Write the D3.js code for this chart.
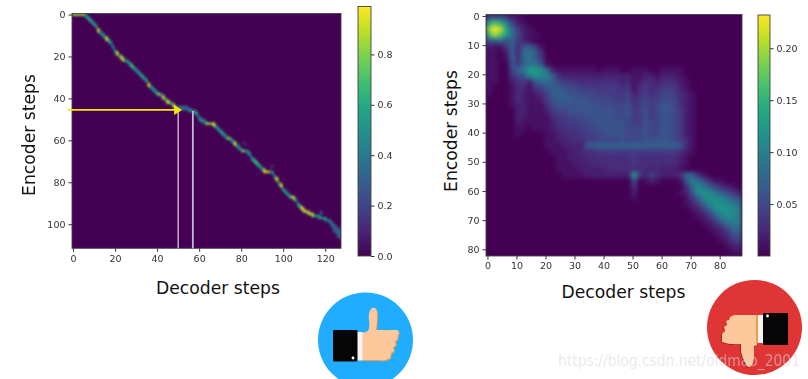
<!DOCTYPE html>
<html><head><meta charset="utf-8">
<script src="https://cdn.jsdelivr.net/npm/d3@7"></script>
<style>html,body{margin:0;padding:0;background:#fff}svg{display:block}text{font-family:"DejaVu Sans"}</style>
</head><body><svg id="c" width="808" height="379"></svg>
<script>
// ---- left heat map: attention row for each decoder step
const alignedRow = [0,0,0,0,0,0,1,2,3,4, 5,6,8,9,10,11,12,13,14,16, 18,19,20,21,22,22,23,24,25,26,
 27,28,29,30,31,32,34,35,36,37, 38,38,39,40,41,42,42,43,44,44, 45,45,45,45,45,46,46,46,47,48,
 50,51,51,52,52,52,52,53,54,55, 56,57,58,59,59,60,61,62,63,64, 65,65,65,66,67,69,70,71,72,73,
 74,75,75,75,75,76,78,79,81,82, 84,85,86,87,87,88,89,91,92,93, 94,94,95,95,96,96,96,97,97,97,
 98,98,99,100,101,102,103,104];
const alignedValue = [.85,.85,.85,.85,.85,.85,.5,.5,.6,.5, .5,.5,.95,.5,.5,.5,.95,.6,.5,.45, .5,.95,.5,.95,.85,.5,.5,.5,.7,.5,
 .5,.5,.5,.6,.5,.5,.95,.5,.5,.5, .6,.95,.5,.95,.5,.95,.85,.5,.95,.5, .4,.4,.38,.38,.38,.38,.4,.5,.6,.5,
 .45,.45,.45,.6,.95,.7,.85,.95,.5,.5, .5,.6,.5,.5,.95,.5,.5,.95,.5,.5, .45,.95,.5,.5,.5,.5,.6,.7,.6,.5,
 .5,.95,.85,.95,.5,.45,.5,.95,.5,.95, .5,.5,.5,.5,.95,.85,.5,.5,.7,.95, .85,.95,.85,.95,.85,.6,.6,.5,.55,.55,
 .55,.45,.45,.35,.3,.3,.3,.3];
const leftFaintCols = [51,52,53,54,55,56,60,61,62,81,82,95,94,118,118,88,123,124,125,126,127,124,125,126,127,125,126,127,126,127,127];
const leftFaintRows = [44,44,44,44,45,45,49,50,50,61,62,72,73,94,95,76,101,102,102,103,103,103,103,104,104,104,105,105,106,106,107];
const leftFaintVals = [.3,.35,.3,.3,.3,.3,.35,.3,.3,.15,.12,.14,.12,.25,.3,.06,.3,.25,.3,.3,.3,.3,.3,.3,.35,.3,.3,.35,.25,.3,.15];
const leftXTicks = [0,20,40,60,80,100,120];
const leftYTicks = [0,20,40,60,80,100];
const leftBarTicks = [0,.2,.4,.6,.8];
const leftMax = .99;
const noteRow = 45.5, noteColA = 50, noteColB = 57;

// ---- right heat map: every 2nd row, every 2nd column, in hundredths (base 36)
const rightGrid = [
"5664 2100 0000 0000 0000 0000 0000 0000 0000 0000 0000",
"ehfb 5210 0000 0000 0000 0000 0000 0000 0000 0000 0000",
"jrle 8421 0000 0000 0000 0000 0000 0000 0000 0000 0000",
"fkhd 8521 1000 0000 0000 0000 0000 0000 0000 0000 0000",
"6786 7421 0000 0000 0000 0000 0000 0000 0000 0000 0000",
"2114 7367 4100 0000 0000 0000 0000 0000 0000 0000 0000",
"1102 7389 7300 0000 0000 0000 0000 0000 0000 0000 0000",
"1101 7389 7400 0000 0000 0000 0000 0000 0000 0000 0000",
"1100 6479 9610 0000 0000 0000 0000 0000 0000 0000 0000",
"1100 579d dc82 1111 1110 1110 0111 0011 1100 0000 0000",
"1100 356b cba7 3222 2222 2222 2112 2122 2100 0000 0000",
"1100 2342 7887 5443 3333 3332 3123 3233 3210 0000 0000",
"1000 1331 4567 7655 4444 4443 4134 3344 4210 0000 0000",
"1000 1321 2357 7766 5554 4444 5234 3455 4321 0000 0000",
"0000 1321 1246 7776 6655 5544 5345 4455 5321 0000 0000",
"0000 1221 1135 6666 6666 5555 6345 4566 5321 0000 0000",
"0000 0221 1124 5566 6666 6655 6446 4566 5421 0000 0000",
"0000 0221 1113 4455 5666 6655 6446 4566 5421 0000 0000",
"0000 0211 1112 3444 5566 6666 5446 5566 5421 0000 0000",
"0000 0110 1112 3344 4556 6666 5556 5566 5421 0000 0000",
"0000 0100 0011 2333 4455 5666 5556 5566 5421 0000 0000",
"0000 0000 0011 2233 3445 5556 5556 6666 5431 0000 0000",
"0000 0000 0011 1222 2777 7777 7877 7777 7731 0000 0000",
"0000 0000 0001 1122 3334 4444 4444 4444 4321 0000 0000",
"0000 0000 0000 1122 2333 3333 3433 3333 3210 0000 0000",
"0000 0000 0000 1112 2233 3333 3433 3333 3210 0000 0000",
"0000 0000 0000 1111 2222 2333 3333 2322 2100 0000 0000",
"0000 0000 0000 0111 1222 2222 2d42 5322 2387 3100 0000",
"0000 0000 0000 0000 0000 0000 0501 2100 016a 8631 1000",
"0000 0000 0000 0000 0000 0000 0300 0000 0038 b975 3210",
"0000 0000 0000 0000 0000 0000 0200 0000 0126 bcb9 7542",
"0000 0000 0000 0000 0000 0000 0100 0000 0014 7bcc b976",
"0000 0000 0000 0000 0000 0000 0000 0000 0012 47bc cba9",
"0000 0000 0000 0000 0000 0000 0000 0000 0001 247b ccba",
"0000 0000 0000 0000 0000 0000 0000 0000 0000 1247 abba",
"0000 0000 0000 0000 0000 0000 0000 0000 0000 0124 79aa",
"0000 0000 0000 0000 0000 0000 0000 0000 0000 0012 3689",
"0000 0000 0000 0000 0000 0000 0000 0000 0000 0001 2367",
"0000 0000 0000 0000 0000 0000 0000 0000 0000 0000 1245",
"0000 0000 0000 0000 0000 0000 0000 0000 0000 0000 0123",
"0000 0000 0000 0000 0000 0000 0000 0000 0000 0000 0011",
"0000 0000 0000 0000 0000 0000 0000 0000 0000 0000 0000"];
const rightXTicks = [0,10,20,30,40,50,60,70,80];
const rightYTicks = [0,10,20,30,40,50,60,70,80];
const rightBarTicks = [.05,.10,.15,.20];
const rightMax = .232;

const xLabel = "Decoder steps", yLabel = "Encoder steps";
const watermark = "https://blog.csdn.net/oldmao_2001";

// ---- drawing
const svg = d3.select("#c");
const defs = svg.append("defs");
function blur(id, s){
  defs.append("filter").attr("id",id).attr("filterUnits","userSpaceOnUse")
    .attr("x",0).attr("y",0).attr("width",808).attr("height",379)
    .attr("color-interpolation-filters","sRGB")
    .append("feGaussianBlur").attr("stdDeviation",s);
}
blur("clipLf",.8); blur("clipRf",2.3); blur("bA",.25); blur("bI",.4);

function frame(id,x,y){
  const [x0,x1]=x.range(),[y0,y1]=y.range();
  defs.append("clipPath").attr("id",id).append("rect").attr("x",x0).attr("y",y0).attr("width",x1-x0).attr("height",y1-y0);
  const g = svg.append("g").attr("clip-path",`url(#${id})`).append("g").attr("filter",`url(#${id}f)`);
  g.append("rect").attr("x",x0-20).attr("y",y0-20).attr("width",x1-x0+40).attr("height",y1-y0+40).attr("fill",d3.interpolateViridis(0));
  return g;
}
function axes(x,y,xt,yt){
  const [x0,x1]=x.range(),[y0,y1]=y.range();
  const g = svg.append("g").attr("class","axes").attr("filter","url(#bA)");
  const ax = g.append("g").attr("transform",`translate(0,${y1})`).call(d3.axisBottom(x).tickValues(xt).tickSize(3.5).tickSizeOuter(0).tickFormat(d3.format("d")));
  const ay = g.append("g").attr("transform",`translate(${x0},0)`).call(d3.axisLeft(y).tickValues(yt).tickSize(3.5).tickSizeOuter(0).tickFormat(d3.format("d")));
  [ax,ay].forEach(a=>{a.select(".domain").remove();a.selectAll("line").attr("stroke","#333");a.selectAll("text").attr("font-family","DejaVu Sans").attr("font-size",9.5).attr("fill","#333");});
  g.append("rect").attr("x",x0).attr("y",y0).attr("width",x1-x0).attr("height",y1-y0).attr("fill","none").attr("stroke","#444").attr("stroke-width",.9);
}
function colorbar(x0,x1,y0,y1,max,ticks,fmt){
  const s = d3.scaleLinear().domain([0,max]).range([y1,y0]);
  const id = "g"+x0;
  const grad = defs.append("linearGradient").attr("id",id).attr("x1",0).attr("x2",0).attr("y1",1).attr("y2",0);
  d3.range(0,1.01,.1).forEach(t=>grad.append("stop").attr("offset",t).attr("stop-color",d3.interpolateViridis(t)));
  const g = svg.append("g").attr("filter","url(#bA)");
  g.append("rect").attr("x",x0).attr("y",y0).attr("width",x1-x0).attr("height",y1-y0).attr("fill",`url(#${id})`).attr("stroke","#444").attr("stroke-width",.9);
  const a = g.append("g").attr("transform",`translate(${x1},0)`).call(d3.axisRight(s).tickValues(ticks).tickSize(3.5).tickSizeOuter(0).tickFormat(d3.format(fmt)));
  a.select(".domain").remove();a.selectAll("line").attr("stroke","#333");a.selectAll("text").attr("font-family","DejaVu Sans").attr("font-size",9.5).attr("fill","#333");
}

// left
const lx = d3.scaleLinear().domain([-.5,127.5]).range([72,341]);
const ly = d3.scaleLinear().domain([-.5,111.5]).range([13.5,248.3]);
const lc = v=>d3.interpolateViridis(v/leftMax);
const gl = frame("clipL",lx,ly);
gl.selectAll("rect.f").data(leftFaintCols.map((c,i)=>({c,r:leftFaintRows[i],v:leftFaintVals[i]}))).join("rect").attr("class","f")
  .attr("x",d=>lx(d.c-.5)).attr("y",d=>ly(d.r-.5)).attr("width",lx(1)-lx(0)+.3).attr("height",ly(1)-ly(0)+.3).attr("fill",d=>lc(d.v));
gl.selectAll("rect.p").data(alignedRow.map((r,i)=>({c:i,r,p:i?alignedRow[i-1]:r,v:alignedValue[i]}))).join("rect").attr("class","p")
  .attr("x",d=>lx(d.c-.5)).attr("y",d=>ly(Math.min(d.p+(d.r-d.p>1?1:0),d.r)-.5)).attr("width",lx(1)-lx(0)+.3)
  .attr("height",d=>ly(d.r+.5)-ly(Math.min(d.p+(d.r-d.p>1?1:0),d.r)-.5)+.3).attr("fill",d=>lc(d.v));
axes(lx,ly,leftXTicks,leftYTicks);
colorbar(358,371,6.5,256,leftMax,leftBarTicks,".1f");

// notes on left
svg.append("line").attr("x1",lx(noteColA)).attr("x2",lx(noteColA)).attr("y1",ly(noteRow)).attr("y2",ly.range()[1]).attr("stroke","#fff").attr("stroke-width",1);
svg.append("line").attr("x1",lx(noteColB)).attr("x2",lx(noteColB)).attr("y1",ly(noteRow+.5)).attr("y2",ly.range()[1]).attr("stroke","#c9b6d6").attr("stroke-width",1.8);
svg.append("line").attr("x1",68).attr("x2",lx(noteColA)-2).attr("y1",ly(noteRow)).attr("y2",ly(noteRow)).attr("stroke","#f7e600").attr("stroke-width",1.8);
svg.append("path").attr("d",d3.line()([[lx(noteColA)-4,ly(noteRow)-5],[lx(noteColA)+4,ly(noteRow)],[lx(noteColA)-4,ly(noteRow)+5]])+"Z").attr("fill","#f7e600");

// right
const rx = d3.scaleLinear().domain([-.5,87.7]).range([486,742]);
const ry = d3.scaleLinear().domain([-.5,82.3]).range([14.5,256]);
const rc = v=>d3.interpolateViridis(v/rightMax);
const rightCells = [];
rightGrid.forEach((row,r)=>row.replace(/ /g,"").split("").forEach((ch,c)=>{const v=parseInt(ch,36)/100; if(v>0) rightCells.push({c:c*2,r:r*2,v});}));
const gr = frame("clipR",rx,ry);
gr.selectAll("rect.c").data(rightCells).join("rect").attr("class","c")
  .attr("x",d=>rx(d.c-.5)).attr("y",d=>ry(d.r-.5)).attr("width",rx(2)-rx(0)+.3).attr("height",ry(2)-ry(0)+.3).attr("fill",d=>rc(d.v));
axes(rx,ry,rightXTicks,rightYTicks);
colorbar(758,770,15,256,rightMax,rightBarTicks,".2f");

// big labels
function big(t,x,y,rot){
  svg.append("text").attr("transform",`translate(${x},${y})`+(rot?" rotate(-90)":"")).attr("text-anchor","middle").attr("font-family","Lato").attr("font-size",17.2).attr("fill","#111").text(t);
}
big(xLabel,218,294,false);
big(yLabel,35,135,true);
big(xLabel,623.5,298,false);
big(yLabel,457,131,true);

// icons
const up = svg.append("g").attr("filter","url(#bI)");
up.append("circle").attr("cx",365.5).attr("cy",340).attr("r",47.5).attr("fill","#21adff");
const handUp="M362,333 L368,331 C371,326 368,320 369,314 C370,308 373,307 375,308 C378,310 377,316 377,321 L376,330 L397,330 Q400,331 398,335 L397,340 L395,341 L396,345 L393,347 L394,351 L391,353 L390,358 Q385,361 380,360 L362,360 Z";
up.append("path").attr("d",handUp).attr("fill","#ef9b4e").attr("transform","translate(.8,.9)");
up.append("path").attr("d",handUp).attr("fill","#fdc99c");
up.append("rect").attr("x",357).attr("y",332).attr("width",5.5).attr("height",28.5).attr("fill","#f4f4f4");
up.append("rect").attr("x",333).attr("y",330).attr("width",24.5).attr("height",31.5).attr("fill","#050505").attr("rx",1);
up.append("circle").attr("cx",353).attr("cy",358).attr("r",1.4).attr("fill","#fff");

const dn = svg.append("g").attr("filter","url(#bI)");
dn.append("circle").attr("cx",754.5).attr("cy",327.5).attr("r",47.5).attr("fill","#e03535");
const handDn="M757,315 L735,315 Q729,316 729,320 L726,321 L727,325 L724,327 L725,331 L722,334 L722,342 Q730,345 741,344 L741,352 C743,358 745,364 748,367 C752,368 754,362 754,355 L754,346 L757,345 Z";
dn.append("path").attr("d",handDn).attr("fill","#a8201f").attr("transform","translate(-.8,.8)");
dn.append("path").attr("d",handDn).attr("fill","#fdc99c");
dn.append("rect").attr("x",756).attr("y",315).attr("width",2).attr("height",28).attr("fill","#ef9b4e");
dn.append("rect").attr("x",758).attr("y",315).attr("width",5).attr("height",28).attr("fill","#f4f4f4");
dn.append("rect").attr("x",763).attr("y",313).attr("width",25).attr("height",32).attr("fill","#050505").attr("rx",1);
dn.append("circle").attr("cx",767.5).attr("cy",316).attr("r",1.4).attr("fill","#fff");

svg.append("text").attr("x",558).attr("y",366).attr("font-family","Liberation Sans").attr("font-size",16.5).attr("fill","#d8d8d8").attr("fill-opacity",.55)
  .attr("textLength",242).attr("lengthAdjust","spacingAndGlyphs").text(watermark);
</script></body></html>
